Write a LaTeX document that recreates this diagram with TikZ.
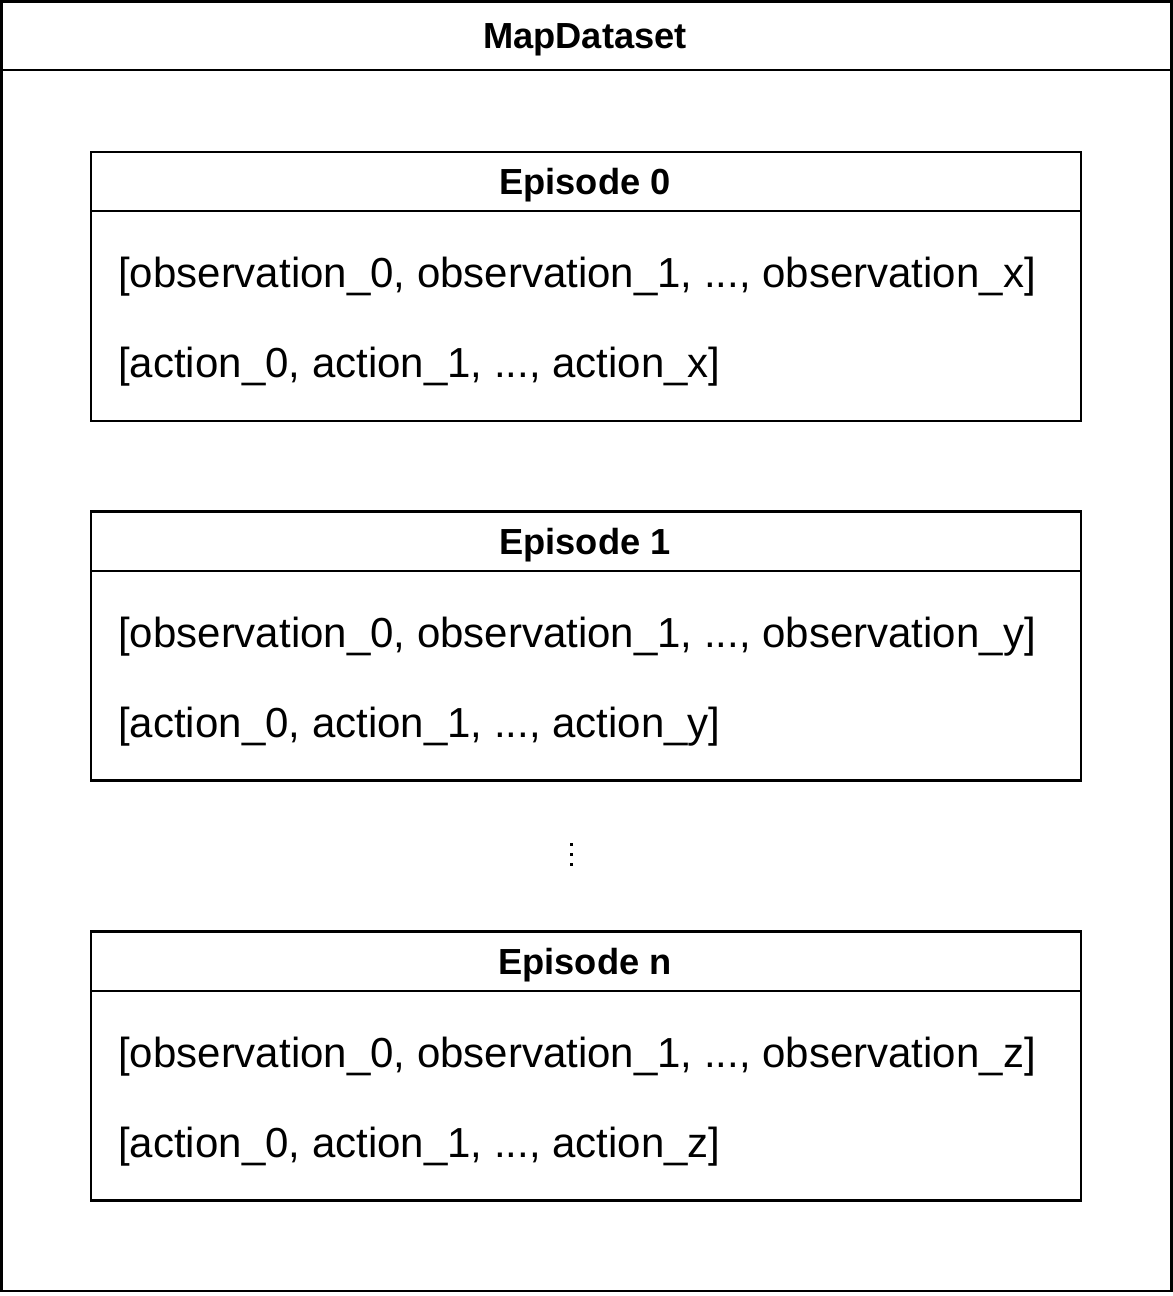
\documentclass[tikz,border=0pt]{standalone}
\usepackage{fontspec}
\setmainfont{Liberation Sans}
\begin{document}
\begin{tikzpicture}[x=0.75pt,y=-0.75pt,
  outerbox/.style={draw=black,line width=2.2pt,inner sep=0pt,minimum width=877.5pt,minimum height=967.1pt},
  epbox/.style={draw=black,line width=1.9pt,inner sep=0pt,minimum width=742.5pt,minimum height=201.75pt},
  sep/.style={line width=1.9pt},
  titletext/.style={font=\fontsize{27.2pt}{30pt}\selectfont\bfseries,inner sep=0pt,anchor=base},
  bodytext/.style={font=\fontsize{31.5pt}{36pt}\selectfont,inner sep=0pt,anchor=base west},
  dotmark/.style={fill=black,inner sep=0pt,minimum size=2.4pt}
]
\useasboundingbox (0,0) rectangle (1173,1296);
\node[outerbox] (outer) at (586.5,646.25) {};
\coordinate (tl) at (1.5,70);
\coordinate (tr) at (1171.5,70);
\draw[line width=2.2pt] (tl) -- (tr);
\node[titletext] (title) at (585,48.5) {MapDataset};

% Episode 0
\node[epbox] (ep0) at (586,286.5) {};
\coordinate (e0l) at (91,211);
\coordinate (e0r) at (1081,211);
\draw[sep] (e0l) -- (e0r);
\node[titletext] (ep0t) at (585,194.5) {Episode 0};
\node[bodytext] (ep0a) at (118,287) {[observation\_0, observation\_1, ..., observation\_x]};
\node[bodytext] (ep0b) at (118,377) {[action\_0, action\_1, ..., action\_x]};

% Episode 1
\node[epbox] (ep1) at (586,646) {};
\coordinate (e1l) at (91,571);
\coordinate (e1r) at (1081,571);
\draw[sep] (e1l) -- (e1r);
\node[titletext] (ep1t) at (585,554.5) {Episode 1};
\node[bodytext] (ep1a) at (118,647) {[observation\_0, observation\_1, ..., observation\_y]};
\node[bodytext] (ep1b) at (118,737) {[action\_0, action\_1, ..., action\_y]};

% dots
\node[dotmark] (d1) at (571.5,844.5) {};
\node[dotmark] (d2) at (571.5,854.5) {};
\node[dotmark] (d3) at (571.5,864.5) {};

% Episode n
\node[epbox] (epn) at (586,1066) {};
\coordinate (enl) at (91,991);
\coordinate (enr) at (1081,991);
\draw[sep] (enl) -- (enr);
\node[titletext] (epnt) at (585,974.5) {Episode n};
\node[bodytext] (epna) at (118,1067) {[observation\_0, observation\_1, ..., observation\_z]};
\node[bodytext] (epnb) at (118,1157) {[action\_0, action\_1, ..., action\_z]};
\end{tikzpicture}
\end{document}
